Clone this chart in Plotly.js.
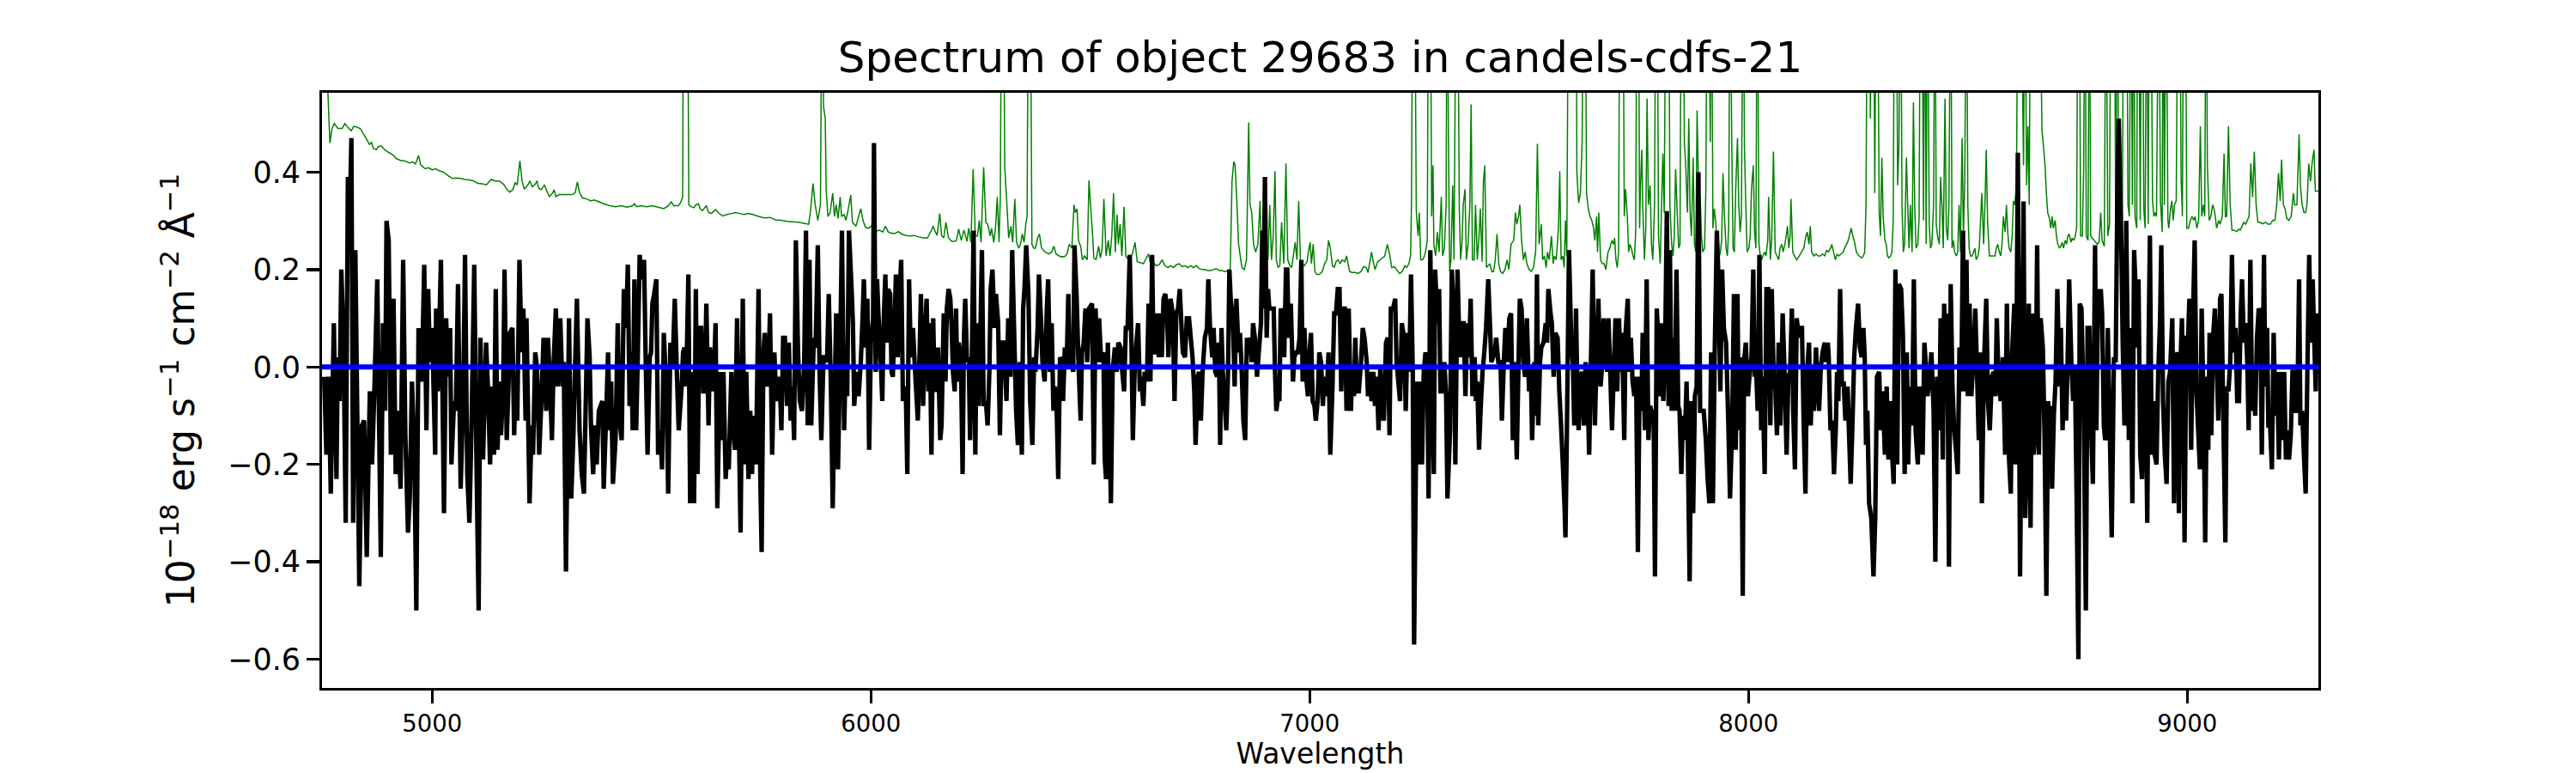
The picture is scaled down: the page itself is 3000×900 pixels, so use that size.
<!DOCTYPE html>
<html>
<head>
<meta charset="utf-8">
<script src="https://cdn.plot.ly/plotly-3.0.1.min.js"></script>
<style>html,body{margin:0;padding:0;background:#fff;}#chart{width:3000px;height:900px;}</style>
</head>
<body>
<div id="chart"></div>
<script>
// ---- Black: object spectrum (flux, 1e-18 erg/s/cm2/A) ----
const blackWaveA = [4754,4759,4764,4769,4776,4782,4785,4789,4793,4798,4803,4808,4812,4816,4820,4825,4834,4840,4845,4851,4858,4863,4868,4875,4883,4888,4893,4896,4901,4906,4912,4917,4922,4928,4934,4939,4945,4949,4954,4959,4964,4969,4975,4979,4982,4987,4991,4995,5000,5007,5009,5013,5020,5027,5032,5036,5041,5044,5050,5054,5059,5065,5071,5075,5080,5085,5090,5096,5101,5106,5110,5116,5123,5128,5132,5137,5141,5145,5149,5154,5157,5162,5165,5170,5174,5177,5183,5187,5191,5194,5199,5204,5208,5213,5215,5222,5227,5230,5235,5239,5244,5249,5254,5260,5264,5269,5273,5277,5282,5286,5292,5297,5300,5305,5312,5317,5322,5326];
const blackFluxA = [-0.02,-0.18,-0.02,-0.26,0.09,-0.23,0.02,-0.07,0.20,0.06,-0.32,0.39,0.30,0.47,-0.32,0.24,-0.45,-0.12,-0.11,-0.39,-0.05,-0.20,-0.06,0.18,-0.39,0.09,-0.09,0.30,0.26,-0.18,0.14,-0.22,-0.09,-0.25,0.22,-0.14,-0.34,-0.27,-0.03,-0.15,-0.50,0.08,-0.03,0.08,0.21,-0.13,0.16,0.01,0.08,-0.18,0.12,-0.05,0.22,-0.30,0.10,-0.02,0.08,-0.20,-0.07,-0.09,0.17,-0.25,-0.06,0.23,-0.22,-0.32,-0.11,0.21,-0.19,-0.50,0.06,-0.19,0.05,-0.06,-0.20,-0.04,-0.18,0.16,-0.17,-0.03,-0.14,-0.04,0.20,-0.15,-0.04,0.07,0.08,-0.14,-0.01,-0.11,0.22,0.03,0.12,-0.11,0.10,-0.28,-0.12,-0.18,0.03,0.00,-0.18,-0.07,0.06,-0.09,0.06,-0.04,-0.15,0.01,0.12,-0.04,0.10,-0.04,0.01,-0.42,0.10,-0.27,-0.14,0.01];
const blackWaveB = [5330,5336,5341,5346,5354,5359,5362,5367,5371,5375,5380,5384,5388,5391,5397,5401,5405,5408,5412,5418,5423,5427,5432,5437,5442,5446,5450,5454,5457,5461,5465,5468,5473,5478,5483,5487,5491,5496,5499,5502,5506,5511,5515,5520,5524,5528,5534,5538,5543,5548,5553,5558,5562,5568,5572,5575,5579,5584,5588,5594,5597,5601,5605,5609,5613,5618,5621,5625,5630,5633,5637,5641,5646,5650,5656,5660,5664,5669,5672,5676,5682,5685,5690,5695,5699,5703,5708,5712,5716,5721,5725,5729,5733,5738,5744,5748,5751,5755,5758,5762,5767,5770,5775,5780,5783,5788,5792,5796,5800,5804,5809,5813,5817,5821,5825,5829,5834,5838,5843,5848,5852,5856,5860,5864,5870,5874,5879,5883,5887,5892,5895,5900,5904,5909];
const blackFluxB = [0.14,-0.13,-0.22,-0.26,0.10,0.02,-0.12,-0.22,-0.12,-0.20,-0.09,-0.08,-0.07,-0.25,-0.09,0.03,-0.13,-0.03,-0.24,-0.15,0.09,-0.11,-0.15,0.16,0.08,0.21,-0.08,0.03,-0.13,0.18,-0.13,-0.01,0.23,0.18,0.22,0.00,-0.18,0.02,0.03,0.13,0.15,0.18,-0.18,-0.13,-0.21,0.07,-0.05,-0.26,0.05,0.00,0.14,-0.02,-0.13,-0.05,0.03,0.04,-0.04,0.19,-0.28,-0.01,-0.28,0.16,-0.22,0.08,0.08,-0.05,-0.05,0.13,-0.12,0.04,0.01,-0.05,0.09,-0.29,-0.01,-0.15,-0.01,-0.23,-0.18,-0.21,-0.01,-0.11,-0.17,0.10,-0.12,-0.34,0.14,-0.20,-0.01,-0.23,-0.09,-0.22,-0.10,-0.20,0.16,-0.23,-0.38,0.03,0.07,-0.04,0.01,0.11,-0.18,0.03,-0.04,-0.07,-0.02,-0.13,0.06,0.06,-0.08,0.05,-0.11,-0.04,-0.15,0.26,0.03,-0.07,-0.09,0.01,0.28,-0.12,0.22,-0.12,0.06,0.04,0.25,-0.01,-0.15,0.02,0.02,0.01,0.15,-0.05];
const blackWaveC = [5913,5917,5921,5925,5930,5934,5939,5943,5946,5950,5956,5959,5962,5967,5972,5977,5981,5984,5988,5992,5996,6000,6005,6007,6011,6014,6019,6023,6026,6029,6033,6036,6039,6044,6047,6050,6054,6057,6061,6063,6069,6073,6076,6080,6083,6087,6091,6096,6099,6102,6107,6111,6114,6119,6122,6127,6131,6134,6138,6142,6145,6149,6153,6158,6161,6166,6170,6173,6177,6181,6184,6187,6191,6194,6197,6200,6205,6209,6212,6215,6219,6223,6226,6230,6234,6238,6241,6246,6249,6253,6257,6262,6266,6270,6273,6277,6282,6285,6290,6294,6298,6302,6305,6309,6313,6318,6322,6326,6331,6335,6339,6344,6347,6350,6354,6359,6363,6368,6372,6375,6380,6383,6388,6391,6396,6401,6404,6408,6412,6416,6419,6423,6427,6431,6435,6438,6442,6446,6450,6453,6457,6461,6464,6469,6473,6478,6481,6485,6489,6493,6497];
const blackFluxC = [-0.29,-0.07,0.11,-0.21,0.03,0.28,-0.13,0.03,-0.06,0.28,0.16,0.09,-0.08,-0.01,-0.06,0.01,0.10,0.18,0.04,0.14,-0.17,0.05,0.10,0.46,-0.01,0.18,0.07,0.00,-0.07,0.09,0.19,0.05,0.16,0.15,-0.01,-0.02,0.09,0.19,0.02,0.10,0.22,-0.07,-0.04,-0.07,-0.22,0.18,0.02,0.08,0.02,-0.03,-0.11,0.03,0.15,-0.08,0.04,0.14,-0.05,0.09,-0.18,0.10,-0.04,-0.05,0.04,-0.15,-0.12,0.11,-0.03,0.12,0.16,0.14,0.08,-0.01,-0.05,0.12,-0.03,0.05,0.02,-0.22,0.06,0.14,0.01,0.02,-0.15,0.01,0.28,-0.18,0.09,-0.08,0.04,0.24,-0.08,-0.07,-0.12,-0.01,0.16,0.20,0.08,0.15,0.09,-0.14,0.05,0.05,0.01,-0.07,0.10,-0.02,0.24,0.09,-0.09,-0.16,0.01,-0.18,0.12,0.16,0.25,0.15,-0.07,-0.16,0.02,-0.01,0.08,0.19,0.09,0.01,-0.03,0.12,0.18,-0.01,0.09,-0.09,-0.04,-0.07,-0.23,0.02,0.01,-0.07,0.04,0.00,0.15,0.00,0.02,-0.01,0.25,0.14,0.01,-0.11,0.03,0.05,0.12,0.01,0.12];
const blackWaveD = [6504,6508,6512,6517,6520,6525,6530,6533,6536,6540,6543,6547,6551,6556,6560,6564,6569,6573,6577,6581,6585,6590,6594,6597,6601,6605,6609,6613,6616,6621,6624,6629,6633,6637,6641,6644,6648,6652,6656,6660,6663,6667,6671,6675,6678,6683,6688,6692,6696,6700,6704,6708,6711,6716,6720,6725,6729,6733,6737,6740,6745,6748,6752,6756,6761,6766,6769,6773,6778,6781,6785,6789,6793,6796,6799,6802,6806,6810,6814,6817,6820,6825,6829,6833,6838,6841,6844,6849,6853,6857,6861,6864,6868,6871,6875,6880,6884,6889,6892,6895,6898,6902,6905,6908,6913,6918,6921,6924,6928,6931,6934,6937,6942,6946,6949,6952,6957,6962,6965,6969,6973,6977,6981,6984,6988,6992,6996,6999,7003,7007,7011,7014,7018,7022,7026,7030,7034,7039,7043,7047,7052,7056,7060,7064,7068,7072,7076,7080,7084];
const blackFluxD = [0.13,-0.20,0.12,0.01,0.10,0.01,0.03,-0.19,-0.23,0.05,-0.09,-0.28,-0.01,0.04,-0.01,0.05,0.04,-0.01,-0.05,0.08,0.08,0.23,0.04,-0.15,-0.01,0.05,0.09,-0.05,-0.02,-0.08,-0.01,-0.03,0.13,-0.03,0.23,0.03,0.03,0.11,0.02,0.11,0.02,0.14,0.15,0.11,0.02,0.14,0.11,-0.07,0.11,0.12,0.16,0.08,0.03,0.02,0.10,0.10,0.06,0.02,-0.05,-0.16,-0.02,-0.01,-0.11,-0.01,0.06,0.08,0.18,0.08,0.02,0.08,-0.01,-0.02,0.05,-0.16,0.08,-0.01,-0.07,-0.13,-0.01,0.20,0.14,0.10,-0.04,0.14,0.03,0.07,0.02,-0.11,-0.15,0.06,0.03,0.06,0.01,0.09,0.06,-0.02,0.03,0.09,0.28,0.12,0.39,0.06,0.16,0.12,0.12,0.12,-0.01,-0.09,-0.06,-0.07,0.12,0.11,0.02,0.20,0.20,0.06,0.13,-0.03,0.02,0.03,0.03,0.06,0.22,-0.03,0.08,-0.02,-0.06,0.02,0.07,-0.07,-0.08,-0.11,-0.07,0.03,0.01,-0.08,-0.02,-0.06,0.03,-0.18,-0.04,0.11,0.11,0.16,0.16,-0.05,0.12,0.12,-0.09];
const blackWaveE = [7089,7094,7097,7101,7104,7108,7112,7117,7121,7125,7130,7133,7137,7141,7145,7149,7153,7157,7161,7164,7169,7174,7178,7182,7185,7190,7195,7198,7203,7206,7210,7215,7219,7223,7227,7231,7235,7238,7242,7245,7249,7253,7256,7260,7264,7268,7271,7275,7279,7283,7286,7291,7295,7298,7303,7307,7311,7314,7320,7324,7329,7332,7337,7341,7343,7347,7351,7355,7359,7363,7367,7371,7376,7379,7382,7386,7390,7394,7398,7402,7407,7410,7414,7418,7422,7425,7430,7435,7438,7443,7446,7450,7455,7459,7463,7467,7472,7476,7479,7483,7487,7491,7495,7500,7504,7507,7512,7515,7518,7521,7525,7528,7533,7538,7541,7544,7549,7552,7556,7560,7565,7569,7573,7577,7581,7583,7586,7591,7596,7600,7603,7607,7609,7613,7617,7621,7625,7629,7633,7637,7641,7645,7650,7654,7658,7663,7667,7670];
const blackFluxE = [0.12,-0.09,-0.01,-0.06,0.06,-0.05,-0.05,0.01,0.08,0.06,0.01,-0.06,-0.01,-0.07,-0.01,-0.08,-0.02,-0.13,0.00,-0.09,-0.11,0.05,0.06,-0.14,0.12,0.12,0.14,0.01,-0.04,-0.07,0.09,0.06,-0.09,0.07,-0.01,0.19,-0.01,-0.57,-0.21,-0.03,-0.20,-0.03,-0.20,-0.01,0.03,-0.01,-0.27,0.24,-0.07,-0.22,0.20,0.09,0.16,-0.05,-0.05,0.01,-0.06,-0.27,-0.13,0.20,0.10,-0.20,0.20,0.05,0.02,0.09,0.09,-0.06,0.09,0.02,0.14,-0.06,0.02,-0.07,-0.03,-0.17,-0.08,-0.01,0.03,0.08,0.18,0.11,0.01,0.02,0.03,0.06,0.01,0.01,-0.11,0.02,0.08,0.01,0.10,0.11,-0.15,0.01,-0.19,0.01,0.14,0.12,0.01,-0.02,0.10,-0.05,0.00,-0.15,0.01,-0.10,0.19,-0.12,0.01,0.04,0.05,0.09,0.05,0.16,0.11,0.09,-0.02,0.07,0.06,-0.05,-0.12,-0.20,-0.29,-0.35,-0.15,0.24,0.06,0.00,-0.12,0.12,0.01,-0.13,-0.02,-0.01,-0.12,0.01,-0.04,-0.18,0.01,0.20,-0.12,0.02,0.14,-0.04,0.01,0.10];
const blackWaveF = [7678,7681,7685,7689,7693,7697,7701,7705,7709,7712,7717,7720,7725,7728,7732,7736,7740,7744,7748,7752,7756,7759,7764,7768,7772,7776,7779,7784,7787,7791,7795,7799,7802,7806,7810,7814,7818,7821,7825,7829,7832,7836,7840,7843,7847,7851,7855,7859,7862,7866,7870,7874,7878,7882,7886,7890,7894,7898,7903,7907,7911,7915,7919,7923,7928,7931,7936,7940,7944,7949,7954,7958,7963,7967,7971,7975,7978,7983,7987,7990,7994,7999,8003,8007,8011,8014,8017,8021,8025,8029,8032,8037,8041,8045,8050,8053,8058,8061,8065,8069,8073,8078,8082,8087,8091,8095,8099,8102,8106,8110,8115,8118,8122,8126,8130,8133,8138,8142,8146,8149,8154,8157,8161,8165,8169,8174,8177,8181,8183,8187,8191,8195,8199,8202,8205,8209,8213,8217,8221,8226,8229,8233,8237,8241,8245,8250,8254,8258];
const blackFluxF = [-0.01,0.10,-0.01,-0.13,-0.01,0.10,-0.05,0.10,-0.01,0.07,-0.15,0.07,0.14,-0.01,0.06,-0.03,-0.06,-0.02,-0.38,-0.02,-0.09,0.07,-0.13,0.18,-0.15,-0.08,-0.09,-0.10,-0.43,0.12,0.05,-0.06,0.09,-0.07,0.03,0.32,-0.08,0.24,-0.09,0.06,-0.09,0.20,-0.08,-0.09,-0.22,-0.10,-0.15,-0.03,-0.17,-0.44,-0.07,-0.30,-0.06,-0.04,0.40,-0.09,-0.09,-0.09,-0.15,-0.23,-0.28,0.03,-0.28,0.02,0.28,0.20,-0.05,0.20,0.08,0.05,-0.11,-0.27,-0.12,0.15,-0.17,0.15,-0.13,0.02,-0.47,0.01,0.05,-0.06,-0.01,0.02,0.20,-0.02,0.01,-0.09,0.23,-0.13,-0.02,-0.22,0.16,0.16,-0.12,0.16,-0.04,-0.04,-0.14,0.05,-0.12,0.11,0.00,-0.18,-0.02,-0.01,0.12,-0.09,-0.21,0.10,0.06,0.08,0.08,-0.12,-0.26,-0.02,0.05,-0.12,0.00,-0.09,0.04,-0.03,-0.09,0.00,0.03,0.05,0.01,0.05,0.02,-0.13,-0.11,-0.22,-0.13,-0.01,-0.07,0.16,-0.04,-0.03,-0.11,-0.04,-0.13,-0.24,-0.12,0.02,0.08,0.13,0.04,0.02];
const blackWaveG = [8262,8265,8268,8271,8275,8280,8285,8289,8293,8298,8302,8306,8311,8315,8319,8324,8327,8331,8335,8339,8343,8348,8352,8356,8361,8364,8368,8373,8377,8381,8386,8389,8392,8397,8401,8404,8408,8412,8417,8422,8426,8430,8435,8438,8443,8446,8450,8453,8457,8461,8465,8469,8473,8477,8481,8485,8489,8492,8497,8500,8504,8508,8513,8517,8521,8525,8529,8532,8537,8542,8546,8550,8555,8559,8563,8566,8570,8575,8580,8585,8589,8594,8598,8601,8606,8609,8614,8619,8624,8627,8631,8635,8639,8643,8647,8650,8654,8658,8662,8666,8671,8675,8679,8683,8686,8690,8692,8696,8700,8704,8709,8712,8716,8720,8724,8727,8731,8736,8740,8744,8748,8752,8755,8759,8764,8769,8773,8777,8781,8785];
const blackFluxG = [0.08,0.02,-0.16,-0.09,-0.28,-0.31,-0.43,-0.31,-0.02,-0.01,-0.13,-0.05,-0.18,-0.04,-0.19,-0.07,-0.17,-0.24,0.20,-0.20,0.17,0.16,0.07,-0.22,0.03,-0.20,-0.04,-0.12,0.18,-0.13,-0.20,-0.04,-0.09,-0.18,0.05,0.01,-0.06,-0.03,0.03,-0.09,-0.40,-0.02,-0.13,0.10,-0.19,0.13,0.01,0.11,-0.41,0.17,-0.04,-0.13,-0.17,-0.22,0.04,-0.05,0.28,-0.05,0.22,-0.06,0.13,-0.06,0.02,0.12,-0.01,-0.15,0.03,-0.28,0.01,0.14,-0.07,-0.13,-0.02,-0.01,-0.06,0.10,-0.02,-0.07,0.02,-0.18,0.13,-0.19,-0.26,0.03,0.13,-0.20,0.44,-0.43,0.02,0.34,-0.31,-0.16,0.13,-0.33,0.11,-0.18,-0.13,0.25,-0.18,0.10,0.04,-0.15,-0.47,-0.07,-0.23,-0.08,-0.25,-0.10,-0.03,0.16,-0.04,0.08,-0.13,0.00,-0.11,-0.01,0.18,0.01,-0.07,0.00,-0.27,-0.60,0.13,0.12,-0.08,-0.50,0.08,0.08,-0.13,-0.24];
const blackWaveH = [8790,8793,8797,8800,8803,8806,8810,8813,8816,8819,8824,8828,8833,8837,8841,8844,8848,8850,8853,8857,8861,8864,8867,8871,8875,8879,8882,8885,8889,8893,8897,8901,8905,8909,8912,8915,8919,8923,8926,8930,8934,8938,8941,8945,8949,8953,8957,8961,8966,8970,8974,8978,8981,8984,8988,8991,8994,8998,9002,9005,9009,9013,9017,9021,9025,9029,9033,9037,9041,9045,9048,9051,9055,9059,9063,9067,9071,9075,9078,9082,9087,9090,9094,9098,9102,9106,9110,9114,9118,9122,9125,9129,9133,9137,9140,9144,9148,9151,9155,9159,9163,9167,9170,9175,9178,9182,9185,9189,9193,9197,9201,9205,9209,9213,9217,9221,9225,9228,9232,9236,9240,9244,9247,9251,9255,9258,9262,9266,9270,9274,9278,9282,9286,9290,9293,9296,9300];
const blackFluxH = [0.25,-0.13,0.16,0.10,0.16,0.11,-0.12,-0.15,-0.14,0.08,-0.15,-0.35,0.02,0.01,0.37,0.51,0.33,0.24,0.05,-0.12,0.30,0.08,-0.15,0.08,-0.28,0.24,0.17,0.04,0.18,-0.18,-0.23,-0.01,-0.01,-0.32,0.05,0.27,-0.18,-0.07,-0.18,-0.20,-0.01,0.09,0.25,-0.07,-0.18,-0.24,-0.03,-0.01,0.10,-0.28,0.02,0.03,-0.30,-0.01,0.10,-0.07,-0.36,0.06,0.06,0.14,-0.17,0.09,0.26,-0.05,-0.13,-0.21,0.12,-0.07,-0.36,-0.02,-0.17,0.07,-0.14,0.06,0.12,0.01,-0.11,0.14,0.15,-0.09,-0.36,-0.04,-0.05,0.01,0.23,0.03,0.08,-0.07,-0.07,0.11,0.18,0.05,0.09,0.01,-0.13,0.22,-0.09,-0.04,-0.10,0.06,0.12,0.11,-0.18,0.23,-0.04,0.08,-0.12,-0.12,-0.21,0.07,-0.10,-0.01,-0.19,-0.01,-0.15,-0.01,-0.19,-0.13,-0.19,-0.14,-0.01,-0.01,-0.09,-0.09,0.18,-0.12,-0.09,-0.18,-0.26,0.00,0.23,0.05,0.18,0.04,-0.05,0.11,0.01];

// ---- Green: noise / sky spectrum (0.9 = line peak above the plotted range) ----
const greenWaveA = [4751,4760,4767,4772,4777,4785,4795,4801,4810,4816,4821,4830,4837,4843,4850,4857,4862,4866,4873,4877,4884,4892,4902,4910,4918,4928,4938,4948,4956,4962,4969,4974,4984,4992,5000,5008,5016,5026,5036,5046,5055,5065,5075,5085,5095,5104,5114,5124,5134,5144,5153,5163,5170,5177,5184,5189,5194,5200,5205,5210,5219,5223,5228,5235,5239,5243,5249,5256,5261,5267,5274,5278,5282,5290,5300,5310,5320,5326,5331,5336];
const greenFluxA = [0.9,0.62,0.46,0.49,0.50,0.49,0.49,0.50,0.49,0.485,0.494,0.492,0.489,0.479,0.469,0.457,0.461,0.449,0.446,0.452,0.454,0.446,0.44,0.436,0.428,0.424,0.423,0.419,0.421,0.417,0.434,0.415,0.407,0.409,0.405,0.407,0.403,0.40,0.393,0.387,0.388,0.387,0.385,0.384,0.382,0.377,0.376,0.374,0.385,0.382,0.382,0.375,0.365,0.359,0.364,0.378,0.374,0.423,0.382,0.365,0.375,0.382,0.37,0.375,0.382,0.367,0.364,0.374,0.362,0.35,0.356,0.364,0.35,0.354,0.354,0.354,0.354,0.358,0.38,0.358];
const greenWaveB = [5343,5352,5362,5369,5378,5391,5405,5418,5431,5444,5457,5461,5466,5476,5489,5502,5515,5528,5538,5545,5551,5561,5566,5571,5573,5577,5582,5585,5590,5597,5601,5607,5611,5616,5625,5630,5636,5646,5652,5662,5672,5682,5691,5701,5711,5721,5731,5744,5757,5770,5783,5796,5809,5822,5835,5848,5858,5862,5868,5873,5879,5885,5889,5892,5896,5898,5902,5907];
const greenFluxB = [0.347,0.345,0.341,0.343,0.34,0.335,0.331,0.329,0.331,0.328,0.331,0.335,0.329,0.331,0.329,0.331,0.328,0.325,0.331,0.339,0.331,0.331,0.337,0.349,0.9,0.9,0.9,0.333,0.329,0.327,0.333,0.335,0.325,0.321,0.331,0.317,0.315,0.323,0.317,0.31,0.313,0.315,0.317,0.315,0.313,0.315,0.313,0.309,0.306,0.307,0.302,0.301,0.299,0.298,0.297,0.295,0.293,0.317,0.377,0.333,0.301,0.333,0.9,0.535,0.51,0.365,0.309,0.317];
const greenWaveC = [5913,5917,5921,5925,5930,5933,5939,5943,5947,5954,5958,5966,5972,5977,5982,5988,5995,6001,6011,6019,6027,6033,6039,6044,6054,6063,6070,6080,6089,6099,6109,6119,6129,6136,6142,6147,6151,6157,6161,6166,6171,6177,6184,6191,6195,6200,6206,6212,6219,6223,6228,6233,6238,6243,6247,6251,6257,6262,6266,6272,6275,6280,6284,6288,6292,6295,6298,6302,6305,6310,6314,6319,6323,6328,6332,6337,6341,6345,6349,6353,6356,6359,6363,6367,6371,6375,6380,6384,6389,6397,6406,6412,6417,6422,6429,6435,6442,6447,6452,6458,6463,6466,6470,6473,6478,6482,6487,6493,6497];
const greenFluxC = [0.357,0.309,0.333,0.305,0.349,0.309,0.313,0.301,0.317,0.353,0.297,0.289,0.309,0.325,0.301,0.286,0.285,0.289,0.278,0.281,0.277,0.289,0.278,0.275,0.274,0.278,0.273,0.27,0.269,0.27,0.267,0.265,0.265,0.277,0.289,0.277,0.27,0.315,0.27,0.265,0.297,0.265,0.258,0.258,0.26,0.283,0.26,0.281,0.258,0.285,0.256,0.406,0.269,0.269,0.301,0.256,0.41,0.297,0.293,0.269,0.285,0.256,0.285,0.349,0.256,0.349,0.9,0.9,0.41,0.333,0.265,0.289,0.256,0.345,0.256,0.244,0.252,0.273,0.256,0.293,0.309,0.9,0.9,0.252,0.244,0.244,0.265,0.273,0.244,0.236,0.232,0.236,0.248,0.232,0.228,0.226,0.227,0.232,0.252,0.244,0.333,0.317,0.325,0.26,0.248,0.22,0.228,0.22,0.383];
const greenWaveD = [6500,6506,6508,6513,6519,6523,6527,6531,6536,6541,6545,6549,6553,6557,6561,6564,6568,6572,6577,6581,6587,6592,6596,6602,6607,6615,6621,6628,6633,6637,6644,6650,6657,6664,6670,6677,6683,6690,6696,6703,6709,6716,6722,6729,6735,6742,6748,6755,6761,6768,6774,6781,6787,6794,6800,6807,6814,6819,6823,6827,6830,6834,6838,6843,6846,6851,6856,6861,6864,6868,6872,6877,6882,6887,6890,6895,6900,6905,6909,6913,6917,6921,6924,6928,6932,6936,6941,6946,6950,6955,6959,6964,6967,6971,6975,6979,6983,6988,6994,6997,7001,7004,7008,7012,7016,7022,7029,7034,7039,7043,7047,7052,7056,7060,7065,7069,7074,7080,7084];
const greenFluxD = [0.341,0.26,0.224,0.22,0.248,0.224,0.244,0.345,0.228,0.26,0.228,0.269,0.357,0.236,0.313,0.252,0.293,0.228,0.329,0.228,0.22,0.228,0.232,0.256,0.216,0.214,0.212,0.224,0.232,0.212,0.214,0.208,0.21,0.22,0.208,0.204,0.208,0.204,0.21,0.212,0.206,0.208,0.204,0.208,0.204,0.208,0.202,0.2,0.2,0.198,0.198,0.2,0.202,0.198,0.198,0.196,0.198,0.202,0.381,0.422,0.414,0.341,0.252,0.22,0.204,0.2,0.22,0.502,0.333,0.317,0.252,0.236,0.252,0.341,0.236,0.22,0.236,0.22,0.333,0.22,0.269,0.402,0.22,0.204,0.208,0.297,0.212,0.418,0.22,0.208,0.204,0.236,0.256,0.22,0.341,0.216,0.212,0.208,0.216,0.236,0.256,0.212,0.252,0.196,0.19,0.19,0.196,0.212,0.22,0.26,0.244,0.208,0.204,0.216,0.22,0.212,0.22,0.216,0.228];
const greenWaveE = [7091,7097,7104,7110,7117,7123,7129,7133,7138,7141,7145,7149,7155,7161,7166,7171,7177,7182,7187,7193,7198,7205,7211,7217,7221,7226,7230,7232,7235,7239,7243,7247,7250,7253,7257,7260,7264,7268,7271,7275,7278,7281,7283,7287,7291,7295,7300,7303,7307,7311,7313,7316,7319,7322,7326,7329,7334,7337,7341,7344,7347,7350,7354,7357,7361,7365,7368,7371,7375,7378,7382,7386,7389,7393,7396,7399,7403,7407,7411,7415,7419,7423,7427,7431,7435,7440,7445,7450,7454,7459,7465,7469,7472,7476,7479,7483,7487,7491,7495,7500,7505,7510,7515,7519,7523,7528,7531,7535,7539,7542,7546,7551,7555,7558,7562,7567,7570,7573,7577,7580,7583,7586,7590,7594,7598,7603,7607,7609,7613,7617,7621,7624,7628,7631,7635,7639,7643,7647,7650,7654,7656,7659,7663,7667,7671];
const greenFluxE = [0.196,0.194,0.194,0.192,0.196,0.206,0.204,0.194,0.22,0.236,0.216,0.2,0.216,0.22,0.224,0.228,0.252,0.232,0.204,0.206,0.2,0.192,0.196,0.208,0.204,0.212,0.228,0.333,0.9,0.9,0.32,0.269,0.317,0.22,0.22,0.224,0.236,0.26,0.9,0.9,0.309,0.414,0.252,0.228,0.277,0.236,0.349,0.228,0.244,0.333,0.9,0.502,0.196,0.22,0.373,0.22,0.9,0.9,0.325,0.22,0.252,0.333,0.365,0.22,0.252,0.333,0.539,0.22,0.22,0.333,0.22,0.269,0.325,0.216,0.381,0.414,0.204,0.208,0.212,0.196,0.196,0.22,0.273,0.212,0.196,0.192,0.2,0.22,0.2,0.252,0.26,0.317,0.293,0.309,0.333,0.26,0.22,0.236,0.212,0.2,0.196,0.204,0.236,0.458,0.252,0.293,0.22,0.228,0.204,0.236,0.22,0.269,0.212,0.228,0.22,0.285,0.402,0.22,0.228,0.204,0.301,0.228,0.9,0.9,0.9,0.9,0.9,0.398,0.337,0.357,0.462,0.9,0.9,0.357,0.325,0.309,0.301,0.285,0.26,0.309,0.236,0.317,0.22,0.212,0.212];
const greenWaveF = [7675,7680,7684,7689,7693,7695,7698,7701,7704,7707,7710,7714,7717,7720,7724,7727,7730,7733,7737,7740,7743,7746,7749,7752,7754,7757,7759,7763,7766,7769,7772,7776,7779,7782,7786,7789,7792,7795,7799,7802,7805,7808,7812,7815,7818,7821,7825,7828,7831,7834,7838,7841,7844,7847,7851,7854,7857,7861,7864,7867,7870,7874,7877,7880,7883,7887,7890,7893,7896,7900,7903,7906,7909,7913,7916,7919,7922,7926,7929,7932,7936,7939,7942,7945,7949,7952,7955,7958,7962,7965,7968,7971,7975,7978,7981,7984,7988,7991,7994,7997,8001,8004,8007,8011,8014,8017,8020,8024,8027,8030,8033,8037,8040,8044,8046,8050,8053,8057,8061,8065,8069,8072,8076,8079,8083,8086,8089,8092,8095,8097,8101,8105,8110,8116,8121,8126,8131,8134,8138,8141,8144,8149,8154,8159,8164,8169,8174,8178,8182,8187,8190,8194,8198,8202,8206,8211,8216,8221,8226,8230,8234,8238,8242,8246,8252,8258];
const greenFluxF = [0.2,0.236,0.244,0.26,0.252,0.265,0.22,0.204,0.236,0.9,0.9,0.9,0.309,0.365,0.309,0.236,0.252,0.244,0.228,0.22,0.277,0.9,0.9,0.285,0.373,0.446,0.333,0.22,0.285,0.551,0.333,0.373,0.252,0.22,0.333,0.9,0.9,0.269,0.212,0.333,0.438,0.317,0.9,0.9,0.9,0.333,0.252,0.228,0.269,0.406,0.309,0.244,0.252,0.9,0.9,0.462,0.414,0.317,0.51,0.317,0.269,0.43,0.252,0.236,0.527,0.333,0.349,0.269,0.236,0.244,0.365,0.9,0.9,0.462,0.9,0.285,0.325,0.293,0.236,0.22,0.236,0.26,0.398,0.317,0.244,0.228,0.285,0.9,0.462,0.244,0.236,0.365,0.47,0.333,0.277,0.309,0.9,0.446,0.333,0.236,0.244,0.269,0.365,0.414,0.277,0.244,0.9,0.252,0.228,0.22,0.228,0.236,0.228,0.26,0.349,0.22,0.26,0.442,0.236,0.228,0.22,0.244,0.252,0.236,0.252,0.269,0.289,0.244,0.269,0.345,0.236,0.228,0.22,0.228,0.236,0.244,0.269,0.277,0.252,0.289,0.236,0.228,0.232,0.228,0.228,0.232,0.228,0.24,0.236,0.244,0.252,0.236,0.22,0.232,0.228,0.232,0.236,0.248,0.256,0.269,0.285,0.269,0.256,0.236,0.228,0.224];
const greenWaveG = [8262,8265,8268,8271,8275,8278,8281,8285,8288,8291,8294,8298,8301,8304,8307,8311,8314,8317,8320,8324,8327,8330,8333,8337,8340,8343,8347,8350,8353,8356,8360,8363,8366,8369,8373,8376,8379,8382,8386,8389,8392,8395,8399,8402,8405,8408,8412,8415,8418,8422,8425,8428,8431,8435,8438,8441,8444,8448,8451,8454,8457,8461,8464,8467,8470,8474,8477,8480,8483,8487,8490,8493,8497,8500,8503,8506,8510,8513,8516,8519,8523,8526,8529,8532,8536,8539,8542,8545,8549,8555,8562,8565,8568,8572,8575,8578,8581,8585,8588,8591,8594,8598,8601,8604,8607,8611,8614,8620,8627,8630,8634,8637,8640,8643,8650,8656,8663,8669,8673,8676,8679,8682,8686,8689,8692,8695,8699,8702,8705,8709,8712,8715,8718,8722,8725,8728,8731,8735,8738,8741,8744,8748,8751,8754,8757,8761,8764,8767,8770,8774,8777,8780];
const greenFluxG = [0.228,0.236,0.333,0.9,0.9,0.51,0.9,0.9,0.357,0.9,0.9,0.317,0.269,0.43,0.309,0.26,0.252,0.228,0.224,0.228,0.236,0.301,0.9,0.9,0.373,0.454,0.9,0.333,0.236,0.252,0.43,0.333,0.244,0.333,0.236,0.543,0.333,0.244,0.252,0.309,0.9,0.9,0.301,0.9,0.252,0.9,0.293,0.244,0.252,0.333,0.9,0.293,0.269,0.252,0.39,0.333,0.244,0.551,0.285,0.26,0.333,0.9,0.244,0.26,0.236,0.228,0.236,0.333,0.236,0.47,0.269,0.381,0.9,0.333,0.244,0.228,0.228,0.236,0.244,0.22,0.228,0.244,0.301,0.357,0.252,0.333,0.446,0.301,0.228,0.228,0.228,0.244,0.252,0.236,0.228,0.252,0.309,0.277,0.333,0.277,0.244,0.236,0.269,0.341,0.333,0.373,0.9,0.9,0.414,0.9,0.373,0.494,0.333,0.9,0.9,0.9,0.9,0.486,0.446,0.414,0.357,0.317,0.305,0.285,0.309,0.285,0.301,0.269,0.252,0.244,0.248,0.256,0.244,0.26,0.252,0.269,0.273,0.256,0.265,0.26,0.265,0.285,0.9,0.9,0.269,0.269,0.406,0.9,0.269,0.26,0.9,0.269];
const greenWaveH = [8795,8799,8803,8806,8811,8815,8819,8823,8826,8831,8834,8837,8841,8844,8849,8852,8855,8859,8862,8865,8868,8872,8875,8878,8881,8885,8887,8889,8893,8896,8898,8901,8904,8908,8911,8914,8917,8921,8924,8927,8930,8935,8939,8943,8945,8948,8952,8956,8958,8962,8965,8968,8971,8975,8979,8983,8986,8989,8992,8996,8999,9003,9007,9011,9015,9018,9022,9026,9030,9033,9037,9040,9043,9046,9050,9054,9058,9061,9064,9067,9072,9075,9080,9084,9087,9090,9094,9098,9102,9107,9113,9118,9121,9125,9129,9133,9137,9141,9145,9149,9153,9157,9161,9165,9172,9178,9185,9189,9195,9200,9204,9208,9212,9215,9219,9223,9227,9232,9237,9242,9245,9250,9255,9258,9262,9266,9270,9273,9277,9281,9285,9289,9292,9296,9300];
const greenFluxH = [0.252,0.256,0.317,0.26,0.248,0.9,0.269,0.293,0.9,0.9,0.9,0.277,0.9,0.293,0.26,0.252,0.9,0.9,0.9,0.333,0.309,0.9,0.333,0.9,0.309,0.285,0.9,0.9,0.301,0.9,0.9,0.325,0.285,0.9,0.293,0.9,0.9,0.341,0.309,0.317,0.309,0.9,0.341,0.277,0.9,0.333,0.9,0.301,0.285,0.325,0.341,0.301,0.333,0.341,0.9,0.9,0.39,0.309,0.9,0.9,0.285,0.285,0.301,0.309,0.301,0.309,0.285,0.301,0.494,0.309,0.333,0.309,0.9,0.414,0.301,0.309,0.333,0.325,0.309,0.285,0.301,0.293,0.309,0.438,0.309,0.309,0.494,0.333,0.281,0.281,0.278,0.283,0.281,0.289,0.297,0.293,0.301,0.309,0.418,0.349,0.442,0.333,0.297,0.297,0.294,0.297,0.293,0.293,0.301,0.301,0.333,0.398,0.341,0.426,0.333,0.325,0.305,0.301,0.309,0.357,0.333,0.333,0.478,0.373,0.333,0.317,0.317,0.333,0.418,0.381,0.422,0.446,0.361,0.361,0.361];

// ---- axes ----
const waveRange = [4749, 9299];
const fluxRange = [-0.659, 0.563];
const zeroLevel = 0;
const xTickVals = [5000, 6000, 7000, 8000, 9000];
const yTickVals = [-0.6, -0.4, -0.2, 0.0, 0.2, 0.4];

const blackWave = [].concat(blackWaveA, blackWaveB, blackWaveC, blackWaveD, blackWaveE, blackWaveF, blackWaveG, blackWaveH);
const blackFlux = [].concat(blackFluxA, blackFluxB, blackFluxC, blackFluxD, blackFluxE, blackFluxF, blackFluxG, blackFluxH);
const greenWave = [].concat(greenWaveA, greenWaveB, greenWaveC, greenWaveD, greenWaveE, greenWaveF, greenWaveG, greenWaveH);
const greenFlux = [].concat(greenFluxA, greenFluxB, greenFluxC, greenFluxD, greenFluxE, greenFluxF, greenFluxG, greenFluxH);

const FONT = 'DejaVu Sans';

const traces = [
  {x: greenWave, y: greenFlux, type: 'scatter', mode: 'lines', line: {color: '#008000', width: 1.5, simplify: false}, hoverinfo: 'skip'},
  {x: blackWave, y: blackFlux, type: 'scatter', mode: 'lines', line: {color: '#000000', width: 5.2, simplify: false}, hoverinfo: 'skip'},
  {x: waveRange, y: [zeroLevel, zeroLevel], type: 'scatter', mode: 'lines', line: {color: '#0000ff', width: 6}, hoverinfo: 'skip'}
];

const layout = {
  width: 3000, height: 900,
  margin: {l: 375, r: 300, t: 108, b: 99, pad: 0},
  paper_bgcolor: '#ffffff', plot_bgcolor: '#ffffff',
  showlegend: false,
  font: {family: FONT, color: '#000000'},
  title: {
    text: 'Spectrum of object 29683 in candels-cdfs-21',
    font: {family: FONT, size: 50, color: '#000000'},
    x: 0.5, xref: 'paper', xanchor: 'center',
    y: 1 - 66/900, yref: 'container', yanchor: 'middle'
  },
  xaxis: {
    range: waveRange, tickvals: xTickVals, ticktext: xTickVals.map(String),
    ticks: 'outside', ticklen: 14.6, tickwidth: 3.3, tickcolor: '#000000',
    showline: true, linecolor: '#000000', linewidth: 3.3, mirror: true,
    showgrid: false, zeroline: false,
    tickfont: {family: FONT, size: 27.5, color: '#000000'},
    title: {text: 'Wavelength', font: {family: FONT, size: 33, color: '#000000'}, standoff: 6}
  },
  yaxis: {
    range: fluxRange, tickvals: yTickVals, tickformat: '.1f',
    ticks: 'outside', ticklen: 14.6, tickwidth: 3.3, tickcolor: '#000000',
    showline: true, linecolor: '#000000', linewidth: 3.3, mirror: true,
    showgrid: false, zeroline: false,
    tickfont: {family: FONT, size: 35, color: '#000000'},
    title: {text: '10<sup>−18</sup> erg s<sup>−1</sup> cm<sup>−2</sup> Å<sup>−1</sup>', font: {family: FONT, size: 44, color: '#000000'}, standoff: 25}
  }
};

Plotly.newPlot('chart', traces, layout, {displayModeBar: false, staticPlot: true});
</script>
</body>
</html>
